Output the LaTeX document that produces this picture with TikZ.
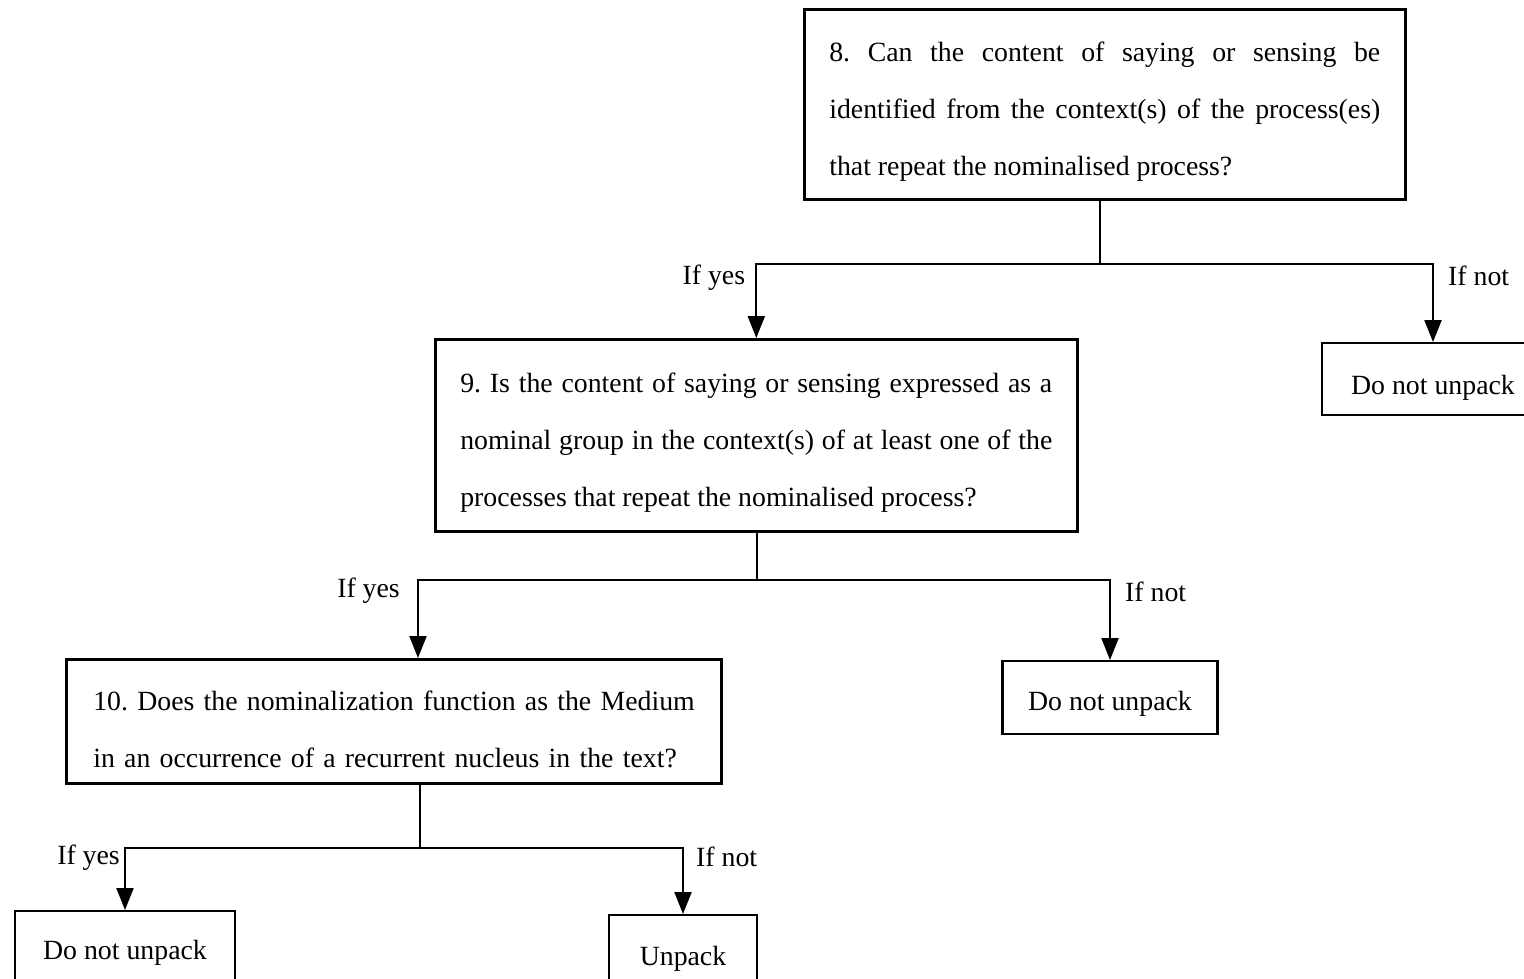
\documentclass[tikz,border=0pt]{standalone}
\usepackage{fontspec}
\setmainfont{Liberation Serif}
\usetikzlibrary{arrows.meta}
\frenchspacing

\begin{document}
\begin{tikzpicture}[x=1pt,y=-1pt,
  qfont/.style={font=\fontsize{27.8}{57}\selectfont},
  qbox/.style={draw, line width=2.6pt, qfont, inner xsep=25pt, inner ysep=0pt,
    align=justify, anchor=north west},
  endbox/.style={draw, line width=2.4pt, qfont, inner sep=0pt, anchor=north,
    text depth=6pt},
  link/.style={line width=2.2pt},
  arr/.style={line width=2.2pt, -{Triangle[width=17pt,length=22pt]}},
  lbl/.style={qfont, inner sep=0pt}]
\useasboundingbox (0,0) rectangle (1524,978);

% question boxes (the zero-width rule lowers the text block inside its frame)
\node[qbox, text width=551pt, minimum height=190pt] (q8) at (803,8)
  {\rule{0pt}{34pt}8. Can the content of saying or sensing be\linebreak
   identified from the context(s) of the process(es)\linebreak
   that repeat the nominalised process?};
\node[qbox, text width=592pt, minimum height=192pt] (q9) at (434,338)
  {\rule{0pt}{34pt}9. Is the content of saying or sensing expressed as a\linebreak
   nominal group in the context(s) of at least one of the\linebreak
   processes that repeat the nominalised process?};
\node[qbox, align=left, inner xsep=27pt, text width=601pt, minimum height=124pt] (q10) at (65,658)
  {\rule{0pt}{36pt}\mbox{10. Does the nominalization function as the Medium}\\
   in an occurrence of a recurrent nucleus in the text?};

% outcome boxes
\node[endbox, text height=37pt, minimum width=222pt, minimum height=72pt] (r8) at (1433,342) {Do not unpack};
\node[endbox, text height=31pt, minimum width=215pt, minimum height=73pt] (m9) at (1110,660) {Do not unpack};
\node[endbox, text height=19pt, minimum width=220pt, minimum height=84pt] (b1) at (125,910) {Do not unpack};
\node[endbox, text height=21pt, minimum width=148pt, minimum height=86pt] (b2) at (683,914) {Unpack};

% branch after question 8
\coordinate (j8) at (1100,264);
\coordinate (c8l) at (q9.north |- j8);
\coordinate (c8r) at (r8.north |- j8);
\draw[link] (j8 |- q8.south) -- (j8);
\draw[arr] (j8) -| (q9.north);
\draw[arr] (j8) -| (r8.north);
\node[lbl, anchor=base east, xshift=-11pt, yshift=-20pt] (y8) at (c8l) {If yes};
\node[lbl, anchor=base west, xshift=15pt, yshift=-21pt] (n8) at (c8r) {If not};

% branch after question 9
\coordinate (j9) at (757,580);
\coordinate (t10) at ([xshift=353pt]q10.north west);
\coordinate (c9l) at (t10 |- j9);
\coordinate (c9r) at (m9.north |- j9);
\draw[link] (j9 |- q9.south) -- (j9);
\draw[arr] (j9) -| (t10);
\draw[arr] (j9) -| (m9.north);
\node[lbl, anchor=base east, xshift=-18pt, yshift=-17pt] (y9) at (c9l) {If yes};
\node[lbl, anchor=base west, xshift=15pt, yshift=-21pt] (n9) at (c9r) {If not};

% branch after question 10
\coordinate (s10) at ([xshift=355pt]q10.south west);
\coordinate (j10) at ([yshift=-63pt]s10);
\coordinate (c10l) at (b1.north |- j10);
\coordinate (c10r) at (b2.north |- j10);
\draw[link] (s10) -- (j10);
\draw[arr] (j10) -| (b1.north);
\draw[arr] (j10) -| (b2.north);
\node[lbl, anchor=base east, xshift=-5pt, yshift=-17pt] (y10) at (c10l) {If yes};
\node[lbl, anchor=base west, xshift=13pt, yshift=-19pt] (n10) at (c10r) {If not};
\end{tikzpicture}
\end{document}
